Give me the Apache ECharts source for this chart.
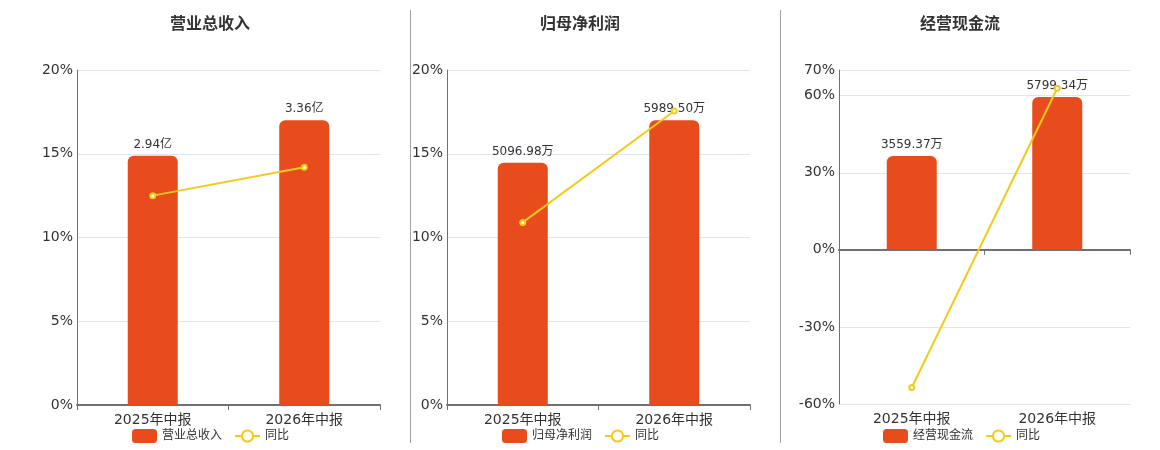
<!DOCTYPE html>
<html>
<head>
<meta charset="utf-8">
<script src="https://cdn.jsdelivr.net/npm/echarts@6/dist/echarts.min.js"></script>
<style>
html,body{margin:0;padding:0;background:#fff;}
#c{width:1160px;height:450px;}
</style>
</head>
<body>
<div id="c"></div>
<script>
var categories = ['2025年中报', '2026年中报'];
var titles = ['营业总收入', '归母净利润', '经营现金流'];
var units = ['亿', '万', '万'];
var revenueValues = [2.94, 3.36];
var profitValues = [5096.98, 5989.50];
var cashflowValues = [3559.37, 5799.34];
var revenueYoY = [12.5, 14.2];
var profitYoY = [10.9, 17.55];
var cashflowYoY = [-53.6, 62.9];
var pctAxes = [
  {min: 0, max: 20, interval: 5},
  {min: 0, max: 20, interval: 5},
  {min: -60, max: 70, interval: 30}
];

var barValues = [revenueValues, profitValues, cashflowValues];
var yoyValues = [revenueYoY, profitYoY, cashflowYoY];

var grids = [
  {left: 77, right: 780, top: 70, bottom: 45},
  {left: 447, right: 410, top: 70, bottom: 45},
  {left: 839, right: 30, top: 70, bottom: 46}
];
var legendLefts = [132, 502, 883];
var titleCenters = [205, 575, 955];

var BAR = '#E84B1C', LINE = '#F2CB1A', TXT = '#333', AX = '#6E7079';

var option = {
  animation: false,
  textStyle: {fontFamily: 'DejaVu Sans, "Noto Sans CJK SC", sans-serif'},
  title: [], legend: [], grid: [], xAxis: [], yAxis: [], series: [],
  graphic: [
    {type: 'line', shape: {x1: 410.5, y1: 10, x2: 410.5, y2: 443}, style: {stroke: '#A0A0A0', lineWidth: 1}},
    {type: 'line', shape: {x1: 780.5, y1: 10, x2: 780.5, y2: 443}, style: {stroke: '#A0A0A0', lineWidth: 1}}
  ]
};

for (var i = 0; i < 3; i++) {
  var vals = barValues[i];
  var bmax = Math.max.apply(null, vals) / 0.85;
  var pa = pctAxes[i];
  var bmin = pa.min < 0 ? bmax * pa.min / pa.max : 0;
  option.title.push({
    text: titles[i], left: titleCenters[i], top: 12, textAlign: 'center',
    textStyle: {fontSize: 16, fontWeight: 'bold', color: TXT}
  });
  option.legend.push({
    data: [titles[i], '同比'], left: legendLefts[i], top: 429, itemWidth: 25, itemHeight: 14, itemGap: 12,
    textStyle: {fontSize: 12, color: TXT}, padding: 0
  });
  option.grid.push(grids[i]);
  var neg = pa.min < 0;
  option.xAxis.push({
    type: 'category', gridIndex: i, data: categories, position: 'bottom',
    axisLine: {show: !neg, onZero: false, lineStyle: {color: AX, width: 2}},
    axisTick: {show: !neg, lineStyle: {color: AX}},
    axisLabel: {fontSize: 14, color: TXT, margin: 8}
  });
  var xIdx = option.xAxis.length - 1;
  if (neg) {
    option.xAxis.push({
      type: 'category', gridIndex: i, data: categories, position: 'bottom',
      axisLine: {show: true, onZero: true, lineStyle: {color: AX, width: 2}},
      axisTick: {show: true, lineStyle: {color: AX}},
      axisLabel: {show: false}
    });
  }
  option.yAxis.push({
    type: 'value', gridIndex: i, min: pa.min, max: pa.max, interval: pa.interval,
    axisLine: {show: true, lineStyle: {color: AX}},
    axisTick: {show: false},
    axisLabel: {fontSize: 14, color: TXT, formatter: '{value}%', margin: 4},
    splitLine: {lineStyle: {color: '#E0E6F1'}}
  });
  var yPct = option.yAxis.length - 1;
  option.yAxis.push({
    type: 'value', gridIndex: i, min: bmin, max: bmax, show: false,
    splitLine: {show: false}
  });
  var yBar = option.yAxis.length - 1;
  (function (unit) {
    option.series.push({
      name: titles[i], type: 'bar', xAxisIndex: xIdx, yAxisIndex: yBar,
      data: vals, barWidth: 50,
      itemStyle: {color: BAR, borderRadius: [6, 6, 0, 0]},
      label: {show: true, position: 'top', fontSize: 12, color: TXT, distance: 5,
        formatter: function (p) { return p.value.toFixed(2) + unit; }}
    });
  })(units[i]);
  option.series.push({
    name: '同比', type: 'line', xAxisIndex: xIdx, yAxisIndex: yPct,
    data: yoyValues[i], symbol: 'emptyCircle', symbolSize: 5, z: 5,
    lineStyle: {color: LINE, width: 2},
    itemStyle: {color: LINE, borderWidth: 2}
  });
}

var chart = echarts.init(document.getElementById('c'));
chart.setOption(option);
</script>
</body>
</html>
